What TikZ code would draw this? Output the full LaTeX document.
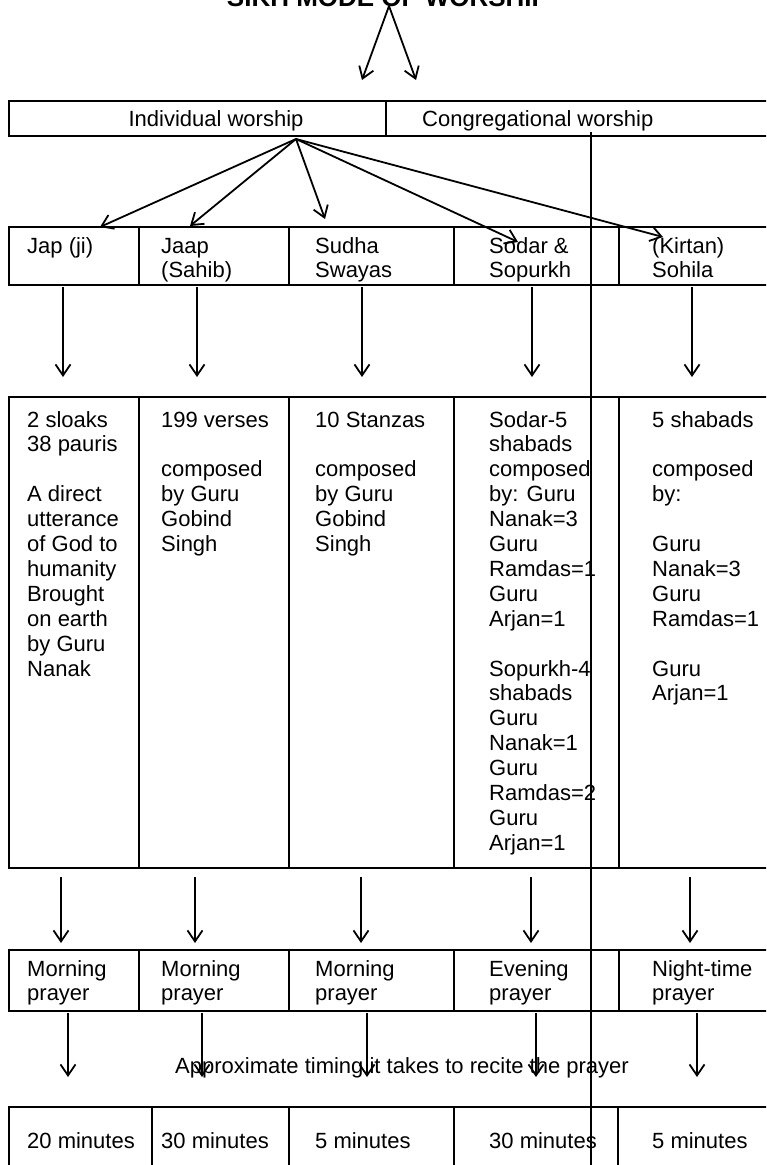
\documentclass[tikz,border=0pt]{standalone}
\usepackage{fontspec}
\setmainfont{Liberation Sans}
\usetikzlibrary{arrows.meta}
\newcommand{\cellt}[1]{\parbox[t]{170pt}{\raggedright #1}}
\begin{document}
\begin{tikzpicture}[x=1pt,y=-1pt,
  box/.style={draw, line width=2pt},
  arr/.style={line width=1.8pt, -{Straight Barb[length=11pt,width=15pt]}},
  txt/.style={anchor=base west, inner sep=0pt, font=\fontsize{22}{24.9}\selectfont},
  ttl/.style={anchor=base, inner sep=0pt, font=\bfseries\fontsize{26}{30}\selectfont},
]
\useasboundingbox (0,0) rectangle (766,1165);
\clip (0,0) rectangle (766,1165);
\fill[white] (0,0) rectangle (766,1165);

% title (cut off at the top edge as in the reference)
\node[ttl] (title) at (388,6) {SIKH MODE OF WORSHIP};
\coordinate (apex) at (389,6);
\coordinate (ta) at (362,80);
\coordinate (tb) at (416,80);
\draw[arr] (apex) -- (ta);
\draw[arr] (apex) -- (tb);

% top row
\draw[box] (9,101) rectangle (386,136);
\draw[box] (386,101) rectangle (790,136);
\node[txt, anchor=base] (indiv) at (216,126) {Individual worship};
\node[txt] (congr) at (422,126) {Congregational worship};

% cell grids
\foreach \a/\b in {9/139,139/289,289/454,454/619,619/790}{
  \draw[box] (\a,227) rectangle (\b,285);
  \draw[box] (\a,397) rectangle (\b,868);
  \draw[box] (\a,950) rectangle (\b,1011);
}
\foreach \a/\b in {9/152,152/289,289/454,454/618,618/790}{
  \draw[box] (\a,1107) rectangle (\b,1200);
}

% row 2 texts
\node[txt] (n1) at (27,253) {\cellt{Jap (ji)}};
\node[txt] (n2) at (161,253) {\cellt{Jaap\\(Sahib)}};
\node[txt] (n3) at (315,253) {\cellt{Sudha\\Swayas}};
\node[txt] (n4) at (489,253) {\cellt{Sodar \&\\Sopurkh}};
\node[txt] (n5) at (652,253) {\cellt{(Kirtan)\\Sohila}};

% row 3 texts
\node[txt] (d1) at (27,427) {\cellt{2 sloaks\\38 pauris\\[24.9pt]A direct\\utterance\\of God to\\humanity\\Brought\\on earth\\by Guru\\Nanak}};
\node[txt] (d2) at (161,427) {\cellt{199 verses\\[24.9pt]composed\\by Guru\\Gobind\\Singh}};
\node[txt] (d3) at (315,427) {\cellt{10 Stanzas\\[24.9pt]composed\\by Guru\\Gobind\\Singh}};
\node[txt] (d4) at (489,427) {\cellt{Sodar-5\\shabads\\composed\\by: Guru\\Nanak=3\\Guru\\Ramdas=1\\Guru\\Arjan=1\\[24.9pt]Sopurkh-4\\shabads\\Guru\\Nanak=1\\Guru\\Ramdas=2\\Guru\\Arjan=1}};
\node[txt] (d5) at (652,427) {\cellt{5 shabads\\[24.9pt]composed\\by:\\[24.9pt]Guru\\Nanak=3\\Guru\\Ramdas=1\\[24.9pt]Guru\\Arjan=1}};

% row 4 texts
\node[txt] (p1) at (27,976) {\cellt{Morning\\prayer}};
\node[txt] (p2) at (161,976) {\cellt{Morning\\prayer}};
\node[txt] (p3) at (315,976) {\cellt{Morning\\prayer}};
\node[txt] (p4) at (489,976) {\cellt{Evening\\prayer}};
\node[txt] (p5) at (652,976) {\cellt{Night-time\\prayer}};

% timing label
\node[txt, anchor=base] (approx) at (402,1073) {Approximate timing it takes to recite the prayer};

% row 5 texts
\node[txt] (m1) at (27,1148) {20 minutes};
\node[txt] (m2) at (161,1148) {30 minutes};
\node[txt] (m3) at (315,1148) {5 minutes};
\node[txt] (m4) at (489,1148) {30 minutes};
\node[txt] (m5) at (652,1148) {5 minutes};

% arrows from individual worship
\coordinate (src) at (296,139);
\coordinate (e1) at (100,227);
\coordinate (e2) at (190,226);
\coordinate (e3) at (325,219);
\coordinate (e4) at (518,242);
\coordinate (e5) at (663,237);
\foreach \e in {e1,e2,e3,e4,e5} \draw[arr] (src) -- (\e);

% vertical arrows between rows
\foreach \x [count=\i] in {63,197,362,532,692}{
  \coordinate (ra\i) at (\x,287); \coordinate (rb\i) at (\x,377);
  \draw[arr] (ra\i) -- (rb\i);
}
\foreach \x [count=\i] in {61,195,361,531,690}{
  \coordinate (sa\i) at (\x,877); \coordinate (sb\i) at (\x,943);
  \draw[arr] (sa\i) -- (sb\i);
}
\foreach \x [count=\i] in {68,202,367,536,697}{
  \coordinate (ua\i) at (\x,1013); \coordinate (ub\i) at (\x,1077);
  \draw[arr] (ua\i) -- (ub\i);
}

% long vertical line
\coordinate (vtop) at (591,132);
\coordinate (vbot) at (591,1170);
\draw[line width=1.8pt] (vtop) -- (vbot);
\end{tikzpicture}
\end{document}
